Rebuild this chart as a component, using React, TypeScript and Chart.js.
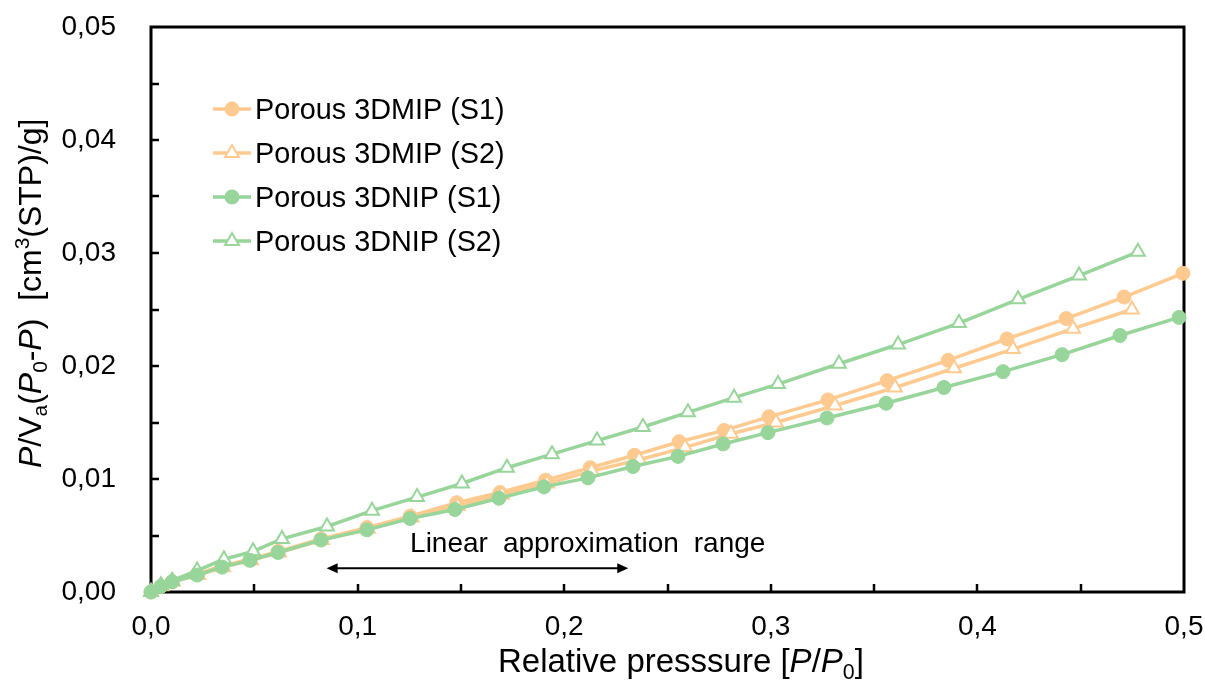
import React, { useEffect, useRef } from 'react';
import { Chart, registerables } from 'chart.js';

Chart.register(...registerables);

const ORANGE = '#FFCA90';
const GREEN = '#97D59A';
const FONT = '"Liberation Sans", Arial, sans-serif';

const SERIES_NAMES = ['Porous 3DMIP (S1)', 'Porous 3DMIP (S2)', 'Porous 3DNIP (S1)', 'Porous 3DNIP (S2)'];

const mipS1X = [0, 0.0048, 0.0102, 0.0223, 0.0344, 0.0479, 0.0615, 0.0823, 0.1045, 0.1254, 0.148, 0.1689, 0.191, 0.2126, 0.234, 0.2556, 0.2774, 0.2991, 0.3277, 0.3563, 0.3858, 0.4143, 0.443, 0.471, 0.4995];
const mipS1Y = [0, 0.0005, 0.0009, 0.0016, 0.0023, 0.0029, 0.0036, 0.0047, 0.0057, 0.0067, 0.0079, 0.0088, 0.0099, 0.011, 0.0121, 0.0133, 0.0143, 0.0155, 0.017, 0.0187, 0.0205, 0.0224, 0.0242, 0.0261, 0.0282];

const mipS2X = [0, 0.005, 0.0105, 0.0228, 0.0349, 0.0484, 0.062, 0.0828, 0.105, 0.1262, 0.1485, 0.1699, 0.1917, 0.2133, 0.2363, 0.2585, 0.2807, 0.3025, 0.3311, 0.3601, 0.3887, 0.4172, 0.4463, 0.4748];
const mipS2Y = [0, 0.0005, 0.0009, 0.0015, 0.0022, 0.0028, 0.0035, 0.0046, 0.0056, 0.0066, 0.0076, 0.0086, 0.0096, 0.0107, 0.0117, 0.0128, 0.014, 0.015, 0.0165, 0.0181, 0.0198, 0.0215, 0.0233, 0.025];

const nipS1X = [0, 0.0048, 0.0102, 0.0223, 0.0344, 0.0479, 0.0615, 0.0823, 0.1045, 0.1254, 0.1471, 0.1684, 0.1902, 0.2115, 0.2333, 0.2551, 0.2769, 0.2986, 0.3272, 0.3558, 0.3838, 0.4124, 0.441, 0.469, 0.4976];
const nipS1Y = [0, 0.0005, 0.0009, 0.0015, 0.0022, 0.0028, 0.0035, 0.0046, 0.0055, 0.0065, 0.0073, 0.0083, 0.0093, 0.0101, 0.0111, 0.012, 0.0131, 0.0141, 0.0154, 0.0167, 0.0181, 0.0195, 0.021, 0.0227, 0.0243];

const nipS2X = [0, 0.0048, 0.0102, 0.0223, 0.0353, 0.0494, 0.0634, 0.0852, 0.107, 0.1288, 0.1505, 0.1723, 0.1941, 0.2159, 0.2381, 0.2599, 0.2822, 0.3035, 0.333, 0.3616, 0.3911, 0.4197, 0.4492, 0.4777];
const nipS2Y = [0, 0.0006, 0.001, 0.0019, 0.0029, 0.0036, 0.0047, 0.0058, 0.0072, 0.0084, 0.0096, 0.011, 0.0122, 0.0134, 0.0146, 0.0159, 0.0172, 0.0184, 0.0202, 0.0219, 0.0238, 0.0259, 0.028, 0.0301];

const X_MIN = 0, X_MAX = 0.5, X_LABEL_STEP = 0.1, X_MINOR_STEP = 0.05;
const Y_MIN = 0, Y_MAX = 0.05, Y_LABEL_STEP = 0.01, Y_MINOR_STEP = 0.005;

const ANNOT_WORDS = ['Linear', 'approximation', 'range'];
const ANNOT_X = 0.1254;
const ANNOT_Y = 0.0035;
const ARROW_FROM = 0.085;
const ARROW_TO = 0.231;
const ARROW_Y = 0.0021;

type Part = { t: string; it?: boolean; sub?: boolean; sup?: boolean };
const Y_TITLE: Part[] = [
  { t: 'P', it: true }, { t: '/V' }, { t: 'a', sub: true }, { t: '(' }, { t: 'P', it: true },
  { t: '0', sub: true }, { t: '-' }, { t: 'P', it: true }, { t: ')  [cm' }, { t: '3', sup: true }, { t: '(STP)/g]' },
];
const X_TITLE: Part[] = [
  { t: 'Relative presssure [' }, { t: 'P', it: true }, { t: '/' }, { t: 'P', it: true }, { t: '0', sub: true }, { t: ']' },
];

function zip(xs: number[], ys: number[]) {
  return xs.map((x, i) => ({ x, y: ys[i] }));
}

function drawRich(ctx: CanvasRenderingContext2D, parts: Part[], x: number, y: number, size: number) {
  let cx = x;
  for (const p of parts) {
    const s = p.sub || p.sup ? size * 0.65 : size;
    ctx.font = `${p.it ? 'italic ' : ''}${s}px ${FONT}`;
    const dy = p.sub ? size * 0.2 : p.sup ? -size * 0.38 : 0;
    ctx.fillText(p.t, cx, y + dy);
    cx += ctx.measureText(p.t).width;
  }
  return cx - x;
}

function drawMarker(ctx: CanvasRenderingContext2D, kind: string, color: string, x: number, y: number) {
  ctx.save();
  if (kind === 'circle') {
    ctx.fillStyle = color;
    ctx.beginPath();
    ctx.arc(x, y, 7.5, 0, Math.PI * 2);
    ctx.fill();
  } else {
    const r = 8;
    ctx.fillStyle = '#fff';
    ctx.strokeStyle = color;
    ctx.lineWidth = 2;
    ctx.beginPath();
    for (let k = 0; k < 3; k++) {
      const a = k * (2 * Math.PI / 3);
      const px = x + Math.sin(a) * r;
      const py = y - Math.cos(a) * r;
      if (k === 0) ctx.moveTo(px, py); else ctx.lineTo(px, py);
    }
    ctx.closePath();
    ctx.fill();
    ctx.stroke();
  }
  ctx.restore();
}

const overlay = {
  id: 'overlay',
  beforeDatasetsDraw(chart: any) {
    const { ctx, chartArea: a, scales } = chart;
    const xs = scales.x, ys = scales.y;
    ctx.save();
    ctx.strokeStyle = '#000';
    ctx.lineWidth = 3;
    ctx.strokeRect(a.left, a.top, a.right - a.left, a.bottom - a.top);
    ctx.lineWidth = 2.5;
    ctx.beginPath();
    for (let v = X_MIN + X_MINOR_STEP; v < X_MAX - 1e-9; v += X_MINOR_STEP) {
      const px = Math.round(xs.getPixelForValue(v));
      ctx.moveTo(px, a.bottom);
      ctx.lineTo(px, a.bottom - 8);
    }
    for (let v = Y_MIN + Y_MINOR_STEP; v < Y_MAX - 1e-9; v += Y_MINOR_STEP) {
      const py = Math.round(ys.getPixelForValue(v));
      ctx.moveTo(a.left, py);
      ctx.lineTo(a.left + 8, py);
    }
    ctx.stroke();
    ctx.restore();
  },
  afterDatasetsDraw(chart: any) {
    const { ctx, scales } = chart;
    const xs = scales.x, ys = scales.y;
    ctx.save();
    const x1 = xs.getPixelForValue(ARROW_FROM);
    const x2 = xs.getPixelForValue(ARROW_TO);
    const y = ys.getPixelForValue(ARROW_Y);
    ctx.strokeStyle = '#000';
    ctx.fillStyle = '#000';
    ctx.lineWidth = 2;
    ctx.beginPath();
    ctx.moveTo(x1 + 6, y);
    ctx.lineTo(x2 - 6, y);
    ctx.stroke();
    ctx.beginPath();
    ctx.moveTo(x1, y); ctx.lineTo(x1 + 11, y - 5); ctx.lineTo(x1 + 11, y + 5); ctx.closePath();
    ctx.moveTo(x2, y); ctx.lineTo(x2 - 11, y - 5); ctx.lineTo(x2 - 11, y + 5); ctx.closePath();
    ctx.fill();
    ctx.font = `28px ${FONT}`;
    ctx.textBaseline = 'alphabetic';
    ctx.textAlign = 'left';
    let tx = xs.getPixelForValue(ANNOT_X);
    const ty = ys.getPixelForValue(ANNOT_Y);
    for (const w of ANNOT_WORDS) {
      ctx.fillText(w, tx, ty);
      tx += ctx.measureText(w).width + 15;
    }
    ctx.restore();
  },
  afterDraw(chart: any) {
    const { ctx } = chart;
    ctx.save();
    ctx.fillStyle = '#000';
    ctx.textBaseline = 'alphabetic';
    ctx.textAlign = 'left';
    const kinds = ['circle', 'triangle', 'circle', 'triangle'];
    const colors = [ORANGE, ORANGE, GREEN, GREEN];
    const rows = [109, 153, 197, 241];
    SERIES_NAMES.forEach((name, i) => {
      const yc = rows[i];
      ctx.strokeStyle = colors[i];
      ctx.lineWidth = 3.5;
      ctx.beginPath();
      ctx.moveTo(213, yc);
      ctx.lineTo(251, yc);
      ctx.stroke();
      drawMarker(ctx, kinds[i], colors[i], 232, yc);
      ctx.fillStyle = '#000';
      ctx.font = `28.8px ${FONT}`;
      ctx.fillText(name, 255, yc + 10);
    });
    drawRich(ctx, X_TITLE, 498, 672, 33);
    ctx.translate(41, 468);
    ctx.rotate(-Math.PI / 2);
    drawRich(ctx, Y_TITLE, 0, 0, 32);
    ctx.restore();
  },
};

const zeroPad = (s: any) => {
  s.paddingTop = 0;
  s.paddingBottom = 0;
  s.paddingLeft = 0;
  s.paddingRight = 0;
};

export default function App() {
  const ref = useRef<HTMLCanvasElement | null>(null);
  useEffect(() => {
    if (!ref.current) return;
    const mk = (label: string, xs: number[], ys: number[], color: string, kind: string, order: number) => ({
      label,
      data: zip(xs, ys),
      borderColor: color,
      backgroundColor: color,
      borderWidth: 3.5,
      pointStyle: kind,
      pointRadius: kind === 'circle' ? 7 : 8,
      pointBackgroundColor: kind === 'circle' ? color : '#fff',
      pointBorderColor: color,
      pointBorderWidth: kind === 'circle' ? 1 : 2,
      tension: 0,
      clip: false,
      order,
    });
    const chart = new Chart(ref.current, {
      type: 'line',
      data: {
        datasets: [
          mk(SERIES_NAMES[0], mipS1X, mipS1Y, ORANGE, 'circle', 3),
          mk(SERIES_NAMES[1], mipS2X, mipS2Y, ORANGE, 'triangle', 2),
          mk(SERIES_NAMES[2], nipS1X, nipS1Y, GREEN, 'circle', 0),
          mk(SERIES_NAMES[3], nipS2X, nipS2Y, GREEN, 'triangle', 1),
        ] as any,
      },
      options: {
        animation: false,
        responsive: true,
        maintainAspectRatio: false,
        events: [],
        layout: { padding: { top: 27, right: 21, left: 0, bottom: 0 } },
        plugins: { legend: { display: false }, tooltip: { enabled: false } },
        scales: {
          x: {
            type: 'linear',
            min: X_MIN,
            max: X_MAX,
            grid: { display: false, drawTicks: false },
            border: { display: false },
            ticks: {
              stepSize: X_LABEL_STEP,
              padding: 18,
              color: '#000',
              font: { family: FONT, size: 28 },
              callback: (v: any) => Number(v).toFixed(1).replace('.', ','),
              maxRotation: 0,
            },
            afterFit: (s: any) => { s.height = 97; zeroPad(s); },
          },
          y: {
            type: 'linear',
            min: Y_MIN,
            max: Y_MAX,
            grid: { display: false, drawTicks: false },
            border: { display: false },
            ticks: {
              stepSize: Y_LABEL_STEP,
              padding: 35,
              color: '#000',
              font: { family: FONT, size: 28 },
              callback: (v: any) => Number(v).toFixed(2).replace('.', ','),
            },
            afterFit: (s: any) => { s.width = 151; zeroPad(s); },
          },
        },
      },
      plugins: [overlay],
    });
    return () => chart.destroy();
  }, []);
  return (
    <div style={{ position: 'fixed', left: 0, top: 0, width: 1205, height: 689, background: '#fff' }}>
      <canvas ref={ref} />
    </div>
  );
}
